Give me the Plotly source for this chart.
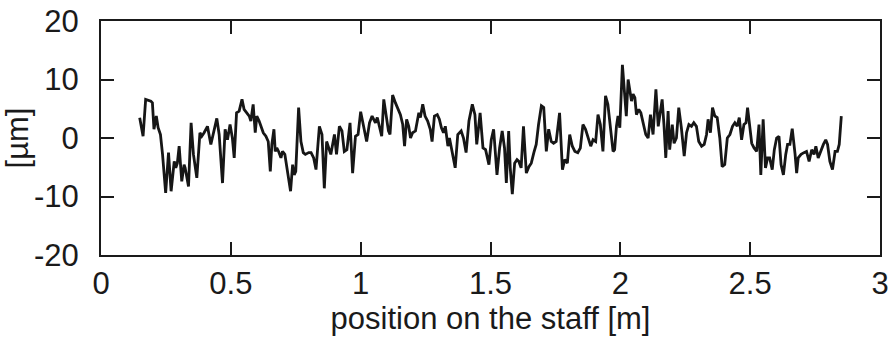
import plotly.graph_objects as go

position_m = [
    0.149, 0.162, 0.172, 0.192, 0.198, 0.204, 0.213, 0.220, 0.229, 0.237, 0.249, 0.260, 0.270, 0.282, 0.288,
    0.294, 0.301, 0.311, 0.320, 0.324, 0.337, 0.347, 0.356, 0.369, 0.381, 0.388, 0.397, 0.410, 0.423, 0.432,
    0.446, 0.455, 0.468, 0.478, 0.487, 0.497, 0.506, 0.513, 0.522, 0.532, 0.543, 0.551, 0.560, 0.571, 0.577,
    0.586, 0.594, 0.600, 0.609, 0.616, 0.625, 0.635, 0.644, 0.652, 0.658, 0.666, 0.671, 0.677, 0.684, 0.693,
    0.699, 0.708, 0.719, 0.730, 0.738, 0.744, 0.750, 0.761, 0.770, 0.779, 0.787, 0.800, 0.809, 0.819, 0.828,
    0.841, 0.851, 0.860, 0.869, 0.879, 0.885, 0.899, 0.907, 0.918, 0.928, 0.937, 0.947, 0.959, 0.969, 0.980,
    0.990, 1.000, 1.012, 1.023, 1.034, 1.044, 1.057, 1.064, 1.072, 1.081, 1.089, 1.098, 1.107, 1.113, 1.123,
    1.134, 1.143, 1.153, 1.162, 1.169, 1.177, 1.185, 1.192, 1.200, 1.211, 1.217, 1.224, 1.230, 1.239, 1.248,
    1.258, 1.268, 1.275, 1.284, 1.295, 1.303, 1.311, 1.319, 1.326, 1.336, 1.342, 1.352, 1.364, 1.374, 1.387,
    1.396, 1.406, 1.417, 1.430, 1.440, 1.447, 1.460, 1.471, 1.481, 1.494, 1.503, 1.512, 1.525, 1.535, 1.545,
    1.554, 1.561, 1.570, 1.576, 1.584, 1.593, 1.602, 1.609, 1.618, 1.627, 1.638, 1.648, 1.657, 1.667, 1.676,
    1.685, 1.696, 1.705, 1.715, 1.724, 1.734, 1.743, 1.753, 1.766, 1.777, 1.786, 1.796, 1.805, 1.815, 1.825,
    1.836, 1.846, 1.856, 1.866, 1.877, 1.886, 1.895, 1.905, 1.914, 1.923, 1.933, 1.943, 1.952, 1.972, 1.978,
    1.985, 1.991, 1.998, 2.008, 2.017, 2.023, 2.030, 2.036, 2.043, 2.049, 2.056, 2.062, 2.071, 2.079, 2.088,
    2.098, 2.107, 2.116, 2.126, 2.137, 2.146, 2.152, 2.161, 2.168, 2.175, 2.184, 2.190, 2.200, 2.207, 2.216,
    2.225, 2.235, 2.246, 2.255, 2.264, 2.274, 2.283, 2.293, 2.302, 2.313, 2.323, 2.332, 2.338, 2.347, 2.355,
    2.364, 2.373, 2.383, 2.392, 2.402, 2.412, 2.422, 2.432, 2.441, 2.450, 2.458, 2.467, 2.476, 2.484, 2.490,
    2.499, 2.506, 2.515, 2.525, 2.534, 2.541, 2.550, 2.559, 2.567, 2.575, 2.585, 2.593, 2.602, 2.611, 2.619,
    2.628, 2.637, 2.644, 2.653, 2.662, 2.673, 2.679, 2.685, 2.696, 2.707, 2.717, 2.727, 2.737, 2.746, 2.753,
    2.762, 2.771, 2.782, 2.791, 2.798, 2.807, 2.817, 2.827, 2.836, 2.843, 2.851,
]

deviation_um = [
    3.46, 0.3, 6.6, 6.3, 6.0, 1.5, 3.75, 1.75, 0.6, -2.8, -9.4, -2.5, -9.1, -4.0, -5.1,
    -4.3, -1.4, -7.4, -4.55, -5.1, -8.3, 2.6, -2.8, -6.8, 0.9, 0.3, 0.9, 2.0, -1.1, 0.6,
    3.35, 0.6, -7.7, 1.5, -0.3, 2.3, 0.0, -3.4, 4.3, 4.6, 6.6, 4.9, 4.3, 3.75, 2.9,
    5.75, 0.9, 3.75, 2.9, 2.0, 0.9, 0.3, -0.6, -5.7, -1.1, 1.5, -2.3, -1.7, -2.3, -3.4,
    -2.3, -2.8, -6.3, -9.1, -4.55, -6.3, -5.7, 5.2, -0.6, -2.5, -2.8, -2.5, -2.5, -3.4, -5.4,
    2.0, 0.6, -8.6, -0.6, -2.0, -2.8, 0.6, -2.8, 2.0, 1.2, -2.3, -2.0, 2.6, -6.0, 0.3,
    0.6, 4.5, 1.75, -0.6, 2.6, 3.75, 2.6, 3.5, 2.0, 0.3, 6.6, 3.5, 1.2, 0.6, 7.35,
    6.0, 4.9, 4.0, 2.3, -1.4, 3.2, 2.0, 0.0, 0.9, 1.2, 2.9, 4.3, 3.5, 5.75, 3.75,
    2.9, 1.5, -0.6, 3.75, 4.0, 3.2, 1.75, 0.9, 2.0, -1.4, 0.0, -2.3, -5.1, 0.6, 1.2,
    0.0, -2.5, 2.9, 5.75, 4.0, -1.1, 4.3, -1.7, -2.0, -4.55, -0.3, 1.5, -6.3, -1.7, 1.2,
    -1.7, -7.7, 1.2, -5.1, -9.6, -4.3, -3.7, -4.0, -5.1, 2.0, -6.0, -4.9, -4.3, -2.5, -1.1,
    2.3, 5.5, 5.2, -2.3, 1.5, -0.6, -0.9, -0.6, 4.3, -5.4, -3.7, -4.3, 0.6, -1.4, -2.3,
    -2.5, -1.7, 2.3, 1.5, -0.3, -1.4, -0.3, -0.6, 4.0, 2.3, -2.3, 7.2, 5.75, -2.3, -2.0,
    2.0, 3.75, 1.75, 12.5, 8.0, 3.75, 10.0, 8.6, 6.3, 7.5, 6.9, 4.0, 4.9, 4.3, 2.3,
    0.6, 0.0, 4.0, 0.6, 8.3, 2.0, 3.75, 6.6, 2.3, -3.4, 4.6, -2.0, 2.3, -0.9, 0.0,
    5.2, 1.75, -3.1, 0.9, 2.3, 2.0, 2.6, 2.0, -0.6, -1.4, -1.1, 0.6, 3.2, 0.9, 5.2,
    3.75, 3.5, 0.0, -4.9, -4.55, 0.0, 0.6, 2.0, 2.6, 2.0, 3.5, -0.3, 2.3, 2.6, 5.2,
    1.5, -0.9, -1.7, -2.3, 2.3, -6.3, 3.2, -5.1, -3.4, -3.4, -5.4, -2.0, 0.0, 0.3, -4.55,
    -6.3, -2.8, -1.1, -1.1, 1.6, -2.8, -6.0, -3.4, -2.8, -2.5, -2.3, -4.0, -2.0, -2.8, -1.4,
    -3.4, -2.3, -1.1, -0.3, -1.1, -4.0, -5.4, -2.3, -2.3, -1.1, 3.75,
]

x_ticks = [0, 0.5, 1, 1.5, 2, 2.5, 3]
x_tick_labels = ["0", "0.5", "1", "1.5", "2", "2.5", "3"]
y_ticks = [-20, -10, 0, 10, 20]
y_tick_labels = ["-20", "-10", "0", "10", "20"]

x_title = "position on the staff [m]"
y_title = "[µm]"

fig = go.Figure()
fig.add_trace(go.Scatter(
    x=position_m, y=deviation_um, mode="lines",
    line=dict(color="#161616", width=2.8),
    showlegend=False, hoverinfo="skip",
))

font_family = "Liberation Sans, Arial, Helvetica, sans-serif"
font_size = 31
axis_common = dict(
    showline=True, linecolor="#1a1a1a", linewidth=2, mirror="ticks",
    ticks="inside", ticklen=13, tickwidth=2, tickcolor="#1a1a1a",
    showgrid=False, zeroline=False, automargin=False,
    tickfont=dict(family=font_family, size=font_size, color="#1a1a1a"),
)

fig.update_xaxes(
    range=[0, 3], tickvals=x_ticks, ticktext=x_tick_labels,
    title=dict(text=x_title, font=dict(family=font_family, size=font_size, color="#1a1a1a"), standoff=0),
    ticklabelstandoff=0,
    **axis_common,
)
fig.update_yaxes(
    range=[-20, 20], tickvals=y_ticks, ticktext=y_tick_labels,
    title=dict(text=y_title, font=dict(family=font_family, size=font_size, color="#1a1a1a"), standoff=8),
    ticklabelstandoff=14,
    **axis_common,
)

fig.update_layout(
    width=889, height=338,
    margin=dict(l=101, r=9, t=21, b=83),
    paper_bgcolor="white", plot_bgcolor="white",
    font=dict(family=font_family, color="#1a1a1a"),
)

fig.write_html(
    "out.html",
    config={"displayModeBar": False, "staticPlot": True},
    post_script="document.body.style.margin='0';document.body.style.overflow='hidden';",
)
